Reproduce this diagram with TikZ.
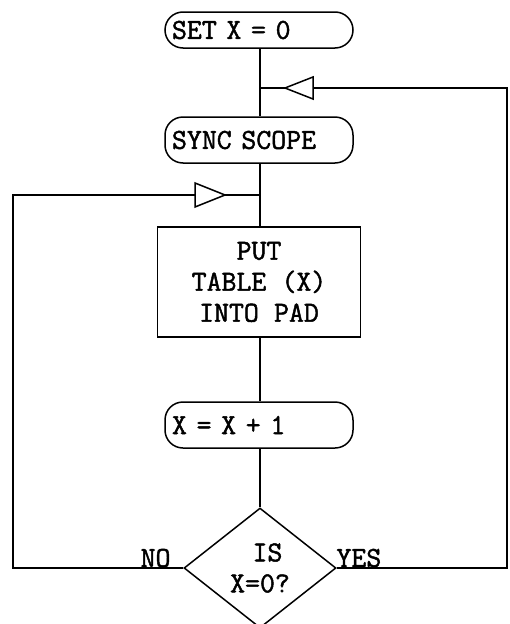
\documentclass[tikz,border=0pt]{standalone}
\usepackage{fontspec}
\newfontfamily\typer{Latin Modern Mono}[FakeBold = 1.6]
\DeclareRobustCommand\typeface{\fontsize{29}{31}\selectfont\typer\bfseries\spaceskip = 0.525em\relax}
\usetikzlibrary{shapes.geometric}
\begin{document}
\begin{tikzpicture}[x = 1pt, y = -1pt, draw = black, line width = 1.5pt,
  font = \typeface,
  stadium/.style = {draw, rounded corners = 18pt, minimum width = 188pt, text width = 174pt, align = left, inner xsep = 6pt, inner ysep = 0pt},
  block/.style = {draw, minimum width = 203pt, minimum height = 110pt, align = center, inner sep = 0pt},
  test/.style = {draw, diamond, minimum width = 152pt, minimum height = 120pt, align = center, inner sep = 0pt}]
\useasboundingbox (0,0) rectangle (509,624);
\node[stadium, minimum height = 36pt] (setx) at (259,30) {SET X = 0};
\node[stadium, minimum height = 46pt] (sync) at (259,140) {SYNC SCOPE};
\node[block] (put) at (259,282) {PUT\\TABLE (X)\\INTO PAD};
\node[stadium, minimum height = 46pt] (incx) at (259,425) {X = X + 1};
\node[test] (iszero) at (260,568) {\phantom{X}IS\\X=0?};
\node[anchor = south east, inner sep = 0pt] (no) at ([xshift = -12pt]iszero.west) {NO};
\node[anchor = south west, inner sep = 0pt] (yes) at ([xshift = -1pt]iszero.east) {YES};
\coordinate (jtop) at (260,88);
\coordinate (jleft) at (260,195);
\draw (setx.south -| jtop) -- (jtop) -- (sync.north -| jtop);
\draw (sync.south -| jleft) -- (jleft) -- (put.north -| jleft);
\draw (put.south -| jleft) -- (incx.north -| jleft);
\draw (incx.south -| jleft) -- (iszero.north);
\draw (iszero.east) -- (507,568) -- (507,88) -- (jtop);
\draw (iszero.west) -- (13,568) -- (13,195) -- (jleft);
\filldraw[fill = white] (313,77) -- (285,88) -- (313,99) -- cycle;
\filldraw[fill = white] (195,183) -- (225,195) -- (195,207) -- cycle;
\end{tikzpicture}
\end{document}
